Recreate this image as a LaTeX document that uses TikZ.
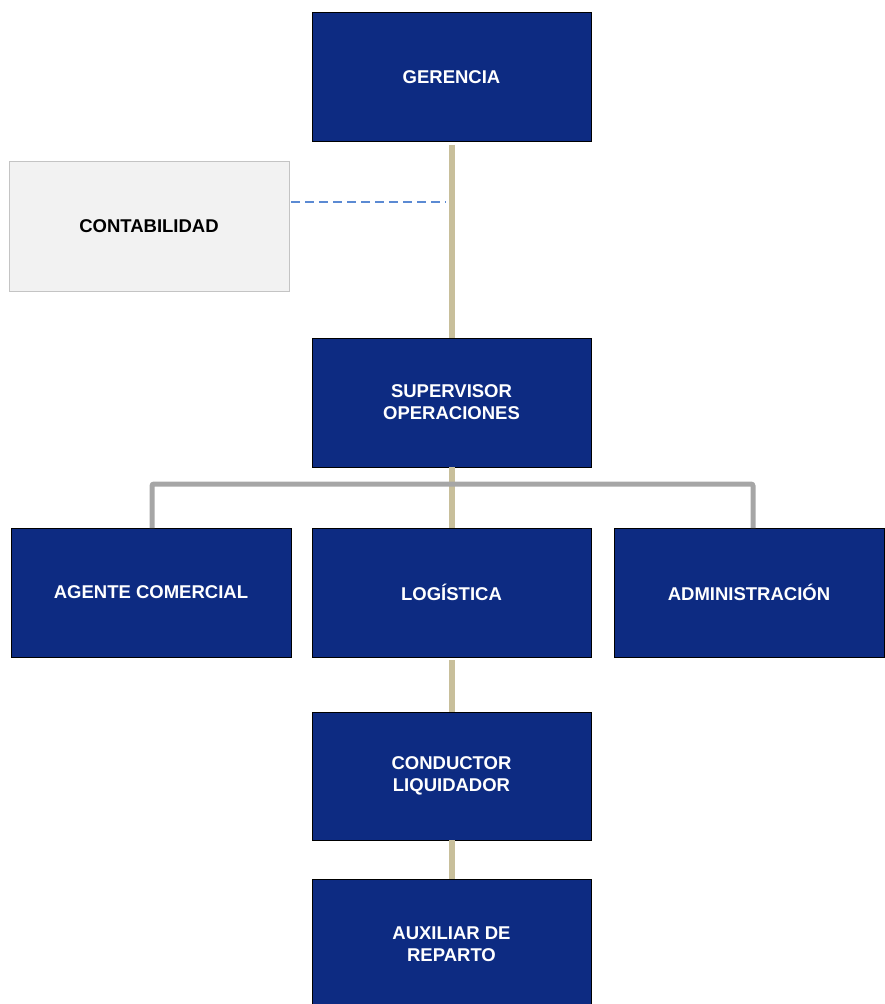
\documentclass[tikz,border=0pt]{standalone}
\usepackage{fontspec}
\setmainfont{Liberation Sans}
\definecolor{navy}{HTML}{0D2B82}
\definecolor{tanline}{HTML}{C8BF9B}
\definecolor{grayline}{HTML}{A6A6A6}
\definecolor{dashblue}{HTML}{5B8AD3}
\definecolor{lightbox}{HTML}{F2F2F2}
\definecolor{lightborder}{HTML}{C4C4C4}
\begin{document}
\begin{tikzpicture}[x=1pt,y=-1pt,
  unit/.style={draw=black, line width=0.8pt, fill=navy, text=white, font=\bfseries\fontsize{18.5}{22}\selectfont, align=center, minimum width=279pt, minimum height=129pt, inner sep=0pt},
  side/.style={draw=lightborder, line width=0.8pt, fill=lightbox, text=black, font=\bfseries\fontsize{18.5}{22}\selectfont, align=center, minimum width=280pt, minimum height=130pt, inner sep=0pt},
  tan/.style={draw=tanline, line width=6pt},
  bracket/.style={draw=grayline, line width=5pt, rounded corners=2pt},
  dashlink/.style={draw=dashblue, line width=2pt, dash pattern=on 9pt off 5pt}
]
\useasboundingbox (0,0) rectangle (884,1004);
\node[unit] (ger) at (451.5,77) {GERENCIA};
\node[side] (cont) at (149,226) {CONTABILIDAD};
\node[unit] (sup) at (451.5,402.5) {SUPERVISOR\\OPERACIONES};
\node[unit, minimum width=280pt] (age) at (151,592.5) {AGENTE COMERCIAL};
\node[unit] (log) at (451.5,592.5) {LOGÍSTICA};
\node[unit, minimum width=270pt] (adm) at (749,592.5) {ADMINISTRACIÓN};
\node[unit, minimum height=128pt] (con) at (451.5,776) {CONDUCTOR\\LIQUIDADOR};
\node[unit, minimum height=130pt] (aux) at (451.5,944) {AUXILIAR DE\\REPARTO};
% coordinates
\coordinate (dashA) at (291,202);
\coordinate (dashB) at (446,202);
\coordinate (brL) at (152,528);
\coordinate (brR) at (753,528);
% connectors
\draw[tan] ([yshift=-3pt]ger.south) -- (sup.north);
\draw[tan] (sup.south) -- (log.north);
\draw[tan] ([yshift=-3pt]log.south) -- (con.north);
\draw[tan] (con.south) -- (aux.north);
\draw[bracket] (brL) -- ++(0,-44) -| (brR);
\draw[dashlink] (dashA) -- (dashB);
\end{tikzpicture}
\end{document}
